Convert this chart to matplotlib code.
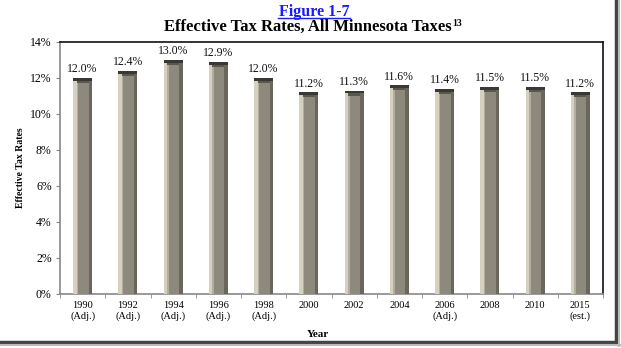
import matplotlib
matplotlib.use("Agg")
import matplotlib.pyplot as plt
from matplotlib.lines import Line2D
import numpy as np

years = ["1990\n(Adj.)", "1992\n(Adj.)", "1994\n(Adj.)", "1996\n(Adj.)", "1998\n(Adj.)",
         "2000", "2002", "2004", "2006\n(Adj.)", "2008", "2010", "2015\n(est.)"]
rates = [12.0, 12.4, 13.0, 12.9, 12.0, 11.2, 11.3, 11.6, 11.4, 11.5, 11.5, 11.2]
yticks = [0, 2, 4, 6, 8, 10, 12, 14]

plt.rcParams['font.family'] = ['Liberation Serif', 'DejaVu Serif']

W, H = 621, 348
fig = plt.figure(figsize=(W/100, H/100), dpi=100)
ax = fig.add_axes([60/W, 1-294/H, (603-60)/W, (294-42)/H])

x = np.arange(len(rates))
w = 0.42
vals = np.array(rates)
# main face
ax.bar(x, vals, width=w, color="#8e897d", edgecolor="none", zorder=2)
# left highlight
ax.bar(x - w/2 + w*0.09, vals, width=w*0.18, color="#d6d0c0", edgecolor="none", zorder=3)
ax.bar(x - w/2 + w*0.22, vals, width=w*0.08, color="#b3ad9f", edgecolor="none", zorder=3)
# right shadow
ax.bar(x + w/2 - w*0.09, vals, width=w*0.18, color="#6a665b", edgecolor="none", zorder=3)
# top cap
ax.bar(x, np.full(len(vals), 0.16), bottom=vals - 0.16, width=w, color="#3a3832",
       edgecolor="none", zorder=4)
ax.bar(x, np.full(len(vals), 0.12), bottom=vals - 0.28, width=w*0.64, color="#5a574d",
       edgecolor="none", zorder=4)

for xi, v in zip(x, rates):
    ax.text(xi, v + 0.15, f"{v:.1f}%", ha="center", va="bottom", fontsize=8.5, color="#111111")

ax.set_xlim(-0.5, len(rates) - 0.5)
ax.set_ylim(0, 14)
ax.set_yticks(yticks)
ax.set_yticklabels([f"{t}%" for t in yticks], fontsize=8.5)
ax.set_xticks(x)
ax.set_xticklabels(years, fontsize=7.5, linespacing=1.25)
ax.tick_params(axis="x", length=0, pad=5)
ax.set_xticks(np.arange(len(rates) + 1) - 0.5, minor=True)
ax.tick_params(axis="x", which="minor", length=3, color="#888888", direction="out")
ax.tick_params(axis="y", length=3, color="#888888", direction="out", pad=3)

for s in ["left", "bottom"]:
    ax.spines[s].set_color("#888888")
    ax.spines[s].set_linewidth(1.2)
for s in ["top", "right"]:
    ax.spines[s].set_color("#111111")
    ax.spines[s].set_linewidth(1.2)

ax.set_ylabel("Effective Tax Rates", fontsize=7, fontweight="bold")
ax.yaxis.set_label_coords((25 - 60)/543, 0.5)
ax.set_xlabel("Year", fontsize=8, fontweight="bold")
ax.xaxis.set_label_coords((318 - 60)/543, -(330 - 294)/252)

fig.text(314/W, 1-16/H, "Figure 1-7", ha="center", va="baseline", fontsize=11.5,
         fontweight="bold", color="#1a1aff")
fig.add_artist(Line2D([278/W, 350/W], [1-18/H, 1-18/H], color="#1a1aff", lw=1.0))
fig.text(452/W, 1-31/H, "Effective Tax Rates, All Minnesota Taxes",
         ha="right", va="baseline", fontsize=12, fontweight="bold", color="#000000")
fig.text(452.5/W, 1-26/H, "13", ha="left", va="baseline", fontsize=7,
         fontweight="bold", color="#000000")

# frame shadow on right and bottom
fig.add_artist(Line2D([616/W, 616/W], [1-343/H, 1.0], color="#444444", lw=2.5))
fig.add_artist(Line2D([0.0, 617/W], [1-342/H, 1-342/H], color="#444444", lw=2.5))
fig.add_artist(Line2D([619/W, 619/W], [1-346/H, 1.0], color="#bbbbbb", lw=1.5))
fig.add_artist(Line2D([0.0, 620/W], [1-345/H, 1-345/H], color="#bbbbbb", lw=1.5))

fig.savefig("out.png", dpi=100)
